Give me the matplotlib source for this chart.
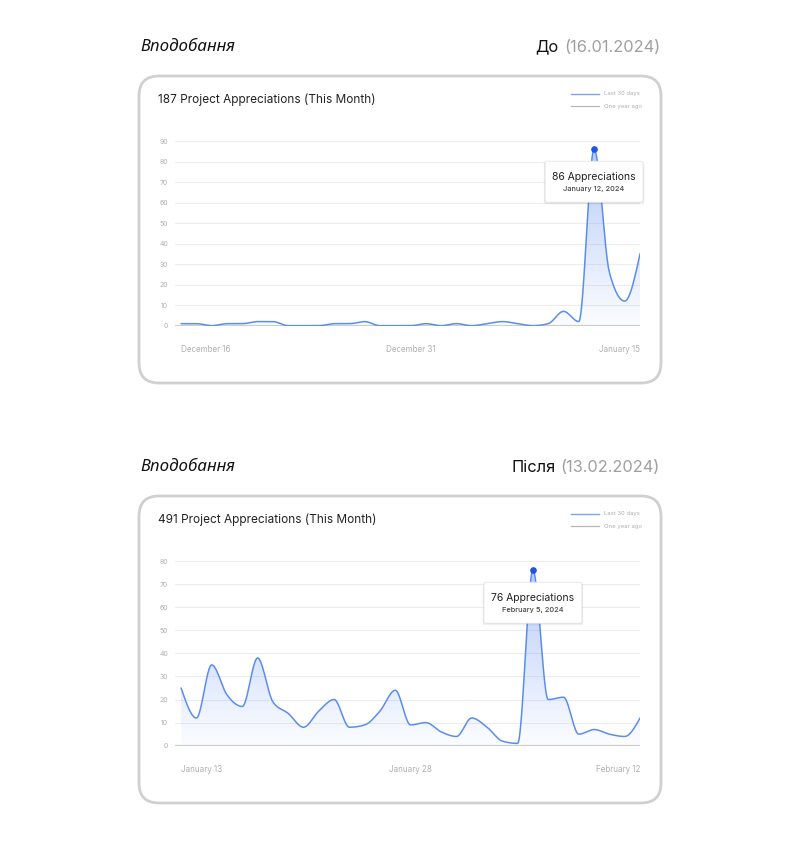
import numpy as np
import matplotlib
matplotlib.use("Agg")
from matplotlib import pyplot as plt
from matplotlib.patches import FancyBboxPatch, Polygon

# ---- data ----
before_values = [1, 1, 0, 1, 1, 2, 2, 0, 0, 0, 1, 1, 2, 0, 0, 0,
                 1, 0, 1, 0, 1, 2, 1, 0, 1, 7, 2, 86, 26, 12, 35]
before_xlabels = ["December 16", "December 31", "January 15"]
before_yticks = [0, 10, 20, 30, 40, 50, 60, 70, 80, 90]
before_title = "187 Project Appreciations (This Month)"
before_peak_date = "January 12, 2024"
before_head = ("До", "(16.01.2024)")

after_values = [25, 12, 35, 22, 17, 38, 19, 14, 8, 15, 20, 8, 9, 15, 24, 9,
                10, 6, 4, 12, 8, 2, 1, 76, 20, 21, 5, 7, 5, 4, 12]
after_xlabels = ["January 13", "January 28", "February 12"]
after_yticks = [0, 10, 20, 30, 40, 50, 60, 70, 80]
after_title = "491 Project Appreciations (This Month)"
after_peak_date = "February 5, 2024"
after_head = ("Після", "(13.02.2024)")

section_label = "Вподобання"
legend_labels = ["Last 30 days", "One year ago"]

W, H = 800, 858
LINE = "#5b8def"
DOT = "#1f55e0"
FONT = ["Inter", "DejaVu Sans"]


def px_rect(l, t, r, b):
    return [l / W, 1 - b / H, (r - l) / W, (b - t) / H]


def monotone_curve(y, steps=24):
    # d3 curveMonotoneX style smoothing, unit spacing
    y = np.asarray(y, float)
    n = len(y)
    s = np.diff(y)
    m = np.zeros(n)
    for i in range(1, n - 1):
        s0, s1 = s[i - 1], s[i]
        p = (s0 + s1) / 2
        m[i] = (np.sign(s0) + np.sign(s1)) * min(abs(s0), abs(s1), 0.5 * abs(p))
    m[0] = (3 * s[0] - m[1]) / 2
    m[-1] = (3 * s[-1] - m[-2]) / 2
    xs, ys = [], []
    t = np.linspace(0, 1, steps, endpoint=False)
    for i in range(n - 1):
        p0 = np.array([i, y[i]])
        p1 = np.array([i + 1 / 3, y[i] + m[i] / 3])
        p2 = np.array([i + 2 / 3, y[i + 1] - m[i + 1] / 3])
        p3 = np.array([i + 1, y[i + 1]])
        b = ((1 - t) ** 3)[:, None] * p0 + (3 * (1 - t) ** 2 * t)[:, None] * p1 \
            + (3 * (1 - t) * t ** 2)[:, None] * p2 + (t ** 3)[:, None] * p3
        xs.append(b[:, 0])
        ys.append(b[:, 1])
    xs.append([n - 1])
    ys.append([y[-1]])
    return np.concatenate(xs), np.concatenate(ys)


fig = plt.figure(figsize=(W / 100, H / 100), dpi=100)
bg = fig.add_axes([0, 0, 1, 1], zorder=0)
bg.set_xlim(0, W)
bg.set_ylim(H, 0)
bg.axis("off")

top = fig.add_axes([0, 0, 1, 1], zorder=5)
top.set_xlim(0, W)
top.set_ylim(H, 0)
top.axis("off")
top.patch.set_alpha(0)

renderer = fig.canvas.get_renderer()

panels = [
    (0, before_values, before_xlabels, before_yticks, before_title, before_peak_date, before_head),
    (420, after_values, after_xlabels, after_yticks, after_title, after_peak_date, after_head),
]

for off, values, xlabels, yticks, title, peak_date, head in panels:
    # header above the card
    bg.text(140, 47 + off, section_label, fontsize=12.2, style="italic",
            family=["Noto Sans", "DejaVu Sans"], color="#111111", va="center")
    gray_part = bg.text(660, 47 + off, head[1], fontsize=11.8, family=FONT,
                        color="#a0a0a0", va="center", ha="right")
    bb = gray_part.get_window_extent(renderer)
    bg.text(bb.x0 - 5, 47 + off, head[0], fontsize=11.8, family=FONT,
            color="#111111", va="center", ha="right")

    # card
    card = FancyBboxPatch((139, 76 + off), 522, 307,
                          boxstyle="round,pad=0,rounding_size=20",
                          facecolor="white", edgecolor="#d0d0d0", lw=2)
    bg.add_patch(card)
    bg.text(158, 100 + off, title, fontsize=8.5, family=FONT, color="#222222", va="center")

    # legend
    bg.plot([571, 599], [94 + off, 94 + off], color="#7ea2f4", lw=1)
    bg.plot([571, 599], [106.3 + off, 106.3 + off], color="#b8b8b8", lw=0.9)
    bg.text(604, 94 + off, legend_labels[0], fontsize=4.3, family=FONT, color="#b0b0b0", va="center")
    bg.text(604, 106.3 + off, legend_labels[1], fontsize=4.3, family=FONT, color="#b0b0b0", va="center")

    # chart
    ax = fig.add_axes(px_rect(175, 141 + off, 640, 325.7 + off), zorder=2)
    ax.patch.set_alpha(0)
    n = len(values)
    xs, ys = monotone_curve(values)
    ymax = yticks[-1]

    for yt in yticks[1:]:
        ax.axhline(yt, color="#ededed", lw=0.8, zorder=0)
    ax.axhline(0, color="#cdcdcd", lw=1.6, zorder=3)

    poly = Polygon(np.column_stack([np.r_[xs, xs[-1], xs[0]], np.r_[ys, 0, 0]]),
                   closed=True, facecolor="none", edgecolor="none")
    ax.add_patch(poly)
    peak = max(values)
    alpha = np.linspace(0.02, 0.45, 256)
    grad = np.zeros((256, 1, 4))
    grad[:, 0, 0] = 0.36
    grad[:, 0, 1] = 0.55
    grad[:, 0, 2] = 0.96
    grad[:, 0, 3] = alpha
    im = ax.imshow(grad, extent=[0, n - 1, 0, peak], origin="lower",
                   aspect="auto", zorder=1, interpolation="bilinear")
    im.set_clip_path(poly)

    ax.plot(xs, ys, color=LINE, lw=1.1, zorder=4, solid_capstyle="round")
    ipk = int(np.argmax(values))
    ax.plot([ipk], [peak], "o", color=DOT, ms=4.8, zorder=6, mec="none")

    ax.set_xlim(-0.4, n - 1)
    ax.set_ylim(0, ymax)
    ax.set_yticks(yticks)
    ax.set_yticklabels([str(v) for v in yticks])
    ax.set_xticks([0, (n - 1) // 2, n - 1])
    ax.set_xticklabels(xlabels)
    for lab, ha in zip(ax.get_xticklabels(), ["left", "center", "right"]):
        lab.set_ha(ha)
    ax.tick_params(axis="y", length=0, pad=5, labelsize=5, labelcolor="#b0b0b0")
    ax.tick_params(axis="x", length=0, pad=14, labelsize=5.8, labelcolor="#b0b0b0")
    for lab in ax.get_xticklabels() + ax.get_yticklabels():
        lab.set_family(FONT)
    for sp in ax.spines.values():
        sp.set_visible(False)

    # tooltip anchored under the peak point
    dx, dy = ax.transData.transform((ipk, peak))
    px, py = dx, H - dy
    bw, bh = 98, 41
    bl, bt = px - bw / 2, py + 12
    for k, a in enumerate([0.05, 0.04, 0.03]):
        top.add_patch(FancyBboxPatch((bl - 0.5 - k * 0.5, bt + 0.5 + k * 0.5), bw + 1 + k, bh + k * 0.5,
                                     boxstyle="round,pad=0,rounding_size=2",
                                     facecolor="black", edgecolor="none", alpha=a))
    top.add_patch(FancyBboxPatch((bl, bt), bw, bh, boxstyle="round,pad=0,rounding_size=2",
                                 facecolor="white", edgecolor="#e4e4e4", lw=0.6))
    top.text(px, bt + 15.6, f"{peak} Appreciations", fontsize=7.5, family=FONT,
             color="#222222", ha="center", va="center")
    top.text(px, bt + 27.4, peak_date, fontsize=5.3, family=FONT, color="#444444",
             ha="center", va="center", weight="medium")

fig.savefig("out.png", dpi=100)
